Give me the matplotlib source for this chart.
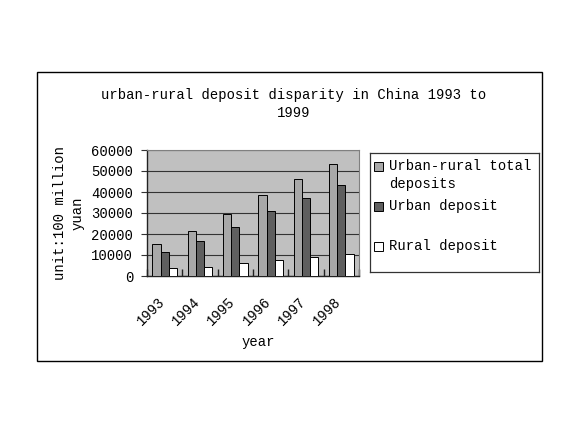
import textwrap
import numpy as np
import matplotlib
matplotlib.use("Agg")
import matplotlib.pyplot as plt
from matplotlib.patches import Rectangle
from matplotlib.transforms import ScaledTranslation

years = ["1993", "1994", "1995", "1996", "1997", "1998"]
total_deposits = [15204, 21519, 29662, 38521, 46280, 53408]
urban_deposits = [11600, 16800, 23500, 30900, 37000, 43200]
rural_deposits = [3700, 4500, 6200, 7700, 9200, 10700]
series_names = ["Urban-rural total deposits", "Urban deposit", "Rural deposit"]
yticks = [0, 10000, 20000, 30000, 40000, 50000, 60000]
title = "urban-rural deposit disparity in China 1993 to\n1999"
ylabel = "unit:100 million\nyuan"
xlabel = "year"

plt.rcParams['font.family'] = ['Liberation Mono', 'DejaVu Sans Mono']
FS = 10

W, H = 566, 424
fig = plt.figure(figsize=(W / 100, H / 100), dpi=100)
fig.patch.set_facecolor("white")

def fx(px):
    return px / W

def fy(py):
    return 1 - py / H

# outer chart border
fig.patches.append(Rectangle((fx(37), fy(361)), fx(505), 289 / H, transform=fig.transFigure,
                             fill=False, edgecolor="black", linewidth=1.0))

ax = fig.add_axes([fx(147), fy(276), fx(212), 126 / H])
ax.set_facecolor("#c0c0c0")
x = np.arange(len(years))
bw = 0.23
colors = ["#a8a8a8", "#5f5f5f", "#ffffff"]
data = [total_deposits, urban_deposits, rural_deposits]
for i, (vals, c) in enumerate(zip(data, colors)):
    ax.bar(x + (i - 1) * bw, vals, width=bw, color=c, edgecolor="black", linewidth=0.7, zorder=3)

ax.set_xlim(-0.5, len(years) - 0.5)
ax.set_ylim(0, 60000)
ax.set_yticks(yticks)
ax.set_yticklabels([str(v) for v in yticks], fontsize=FS)
ax.yaxis.grid(True, color="#333333", linewidth=0.8, zorder=0)
ax.set_axisbelow(True)
ax.tick_params(axis='y', length=4, width=0.8, pad=6, color="#333333")

ax.set_xticks(x)
ax.set_xticklabels(years, rotation=45, ha='right', rotation_mode='anchor', fontsize=FS)
ax.tick_params(axis='x', which='major', length=0, pad=13)
offset = ScaledTranslation(-7 / 100, 0, fig.dpi_scale_trans)
for lbl in ax.get_xticklabels():
    lbl.set_transform(lbl.get_transform() + offset)
ax.set_xticks(np.arange(-0.5, len(years) + 0.5, 1), minor=True)
ax.tick_params(axis='x', which='minor', direction='in', length=5, width=1.0, color="#222222")

for s in ["top", "right"]:
    ax.spines[s].set_color("#808080")
    ax.spines[s].set_linewidth(0.8)
for s in ["left", "bottom"]:
    ax.spines[s].set_color("#222222")
    ax.spines[s].set_linewidth(1.0)

fig.text(fx(294), fy(104), title, ha='center', va='center', fontsize=FS, linespacing=1.3)
fig.text(fx(69), fy(213), ylabel, ha='center', va='center', rotation=90, fontsize=FS,
         linespacing=1.3)
fig.text(fx(258), fy(342), xlabel, ha='center', va='center', fontsize=FS)

# legend
lax = fig.add_axes([fx(370), fy(272), fx(169), 119 / H])
lax.set_xlim(0, 169)
lax.set_ylim(119, 0)
lax.set_xticks([])
lax.set_yticks([])
for s in lax.spines.values():
    s.set_color("#333333")
    s.set_linewidth(0.9)
ycent = [13, 53, 93]
for name, c, yc in zip(series_names, colors, ycent):
    lax.add_patch(Rectangle((4, yc - 4.5), 9, 9, facecolor=c, edgecolor="black", linewidth=0.7))
    lax.text(19, yc - 7, textwrap.fill(name, 17), ha='left', va='top', fontsize=FS, linespacing=1.35)

fig.savefig("out.png", dpi=100)
